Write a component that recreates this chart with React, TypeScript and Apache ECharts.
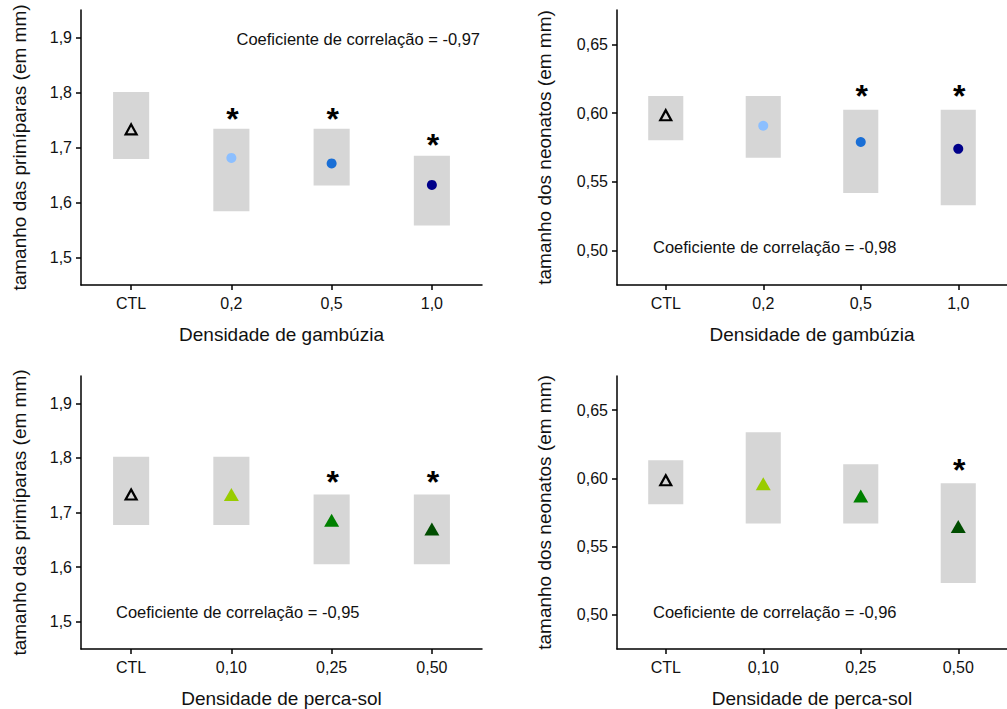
import React, { useEffect, useRef } from "react";
import * as echarts from "echarts";

const catsGamb = ["CTL", "0,2", "0,5", "1,0"];
const catsPerca = ["CTL", "0,10", "0,25", "0,50"];

const primGambMean = [1.733, 1.681, 1.671, 1.632];
const primGambLow = [1.679, 1.584, 1.631, 1.558];
const primGambHigh = [1.801, 1.734, 1.734, 1.685];
const primGambStar = [null, 1.759, 1.759, 1.712];

const neoGambMean = [0.5985, 0.5908, 0.579, 0.574];
const neoGambLow = [0.5803, 0.5675, 0.542, 0.533];
const neoGambHigh = [0.6124, 0.6124, 0.6024, 0.6024];
const neoGambStar = [null, null, 0.6155, 0.6155];

const primPercaMean = [1.733, 1.733, 1.686, 1.67];
const primPercaLow = [1.677, 1.677, 1.605, 1.605];
const primPercaHigh = [1.802, 1.802, 1.733, 1.733];
const primPercaStar = [null, null, 1.764, 1.764];

const neoPercaMean = [0.5986, 0.596, 0.587, 0.5647];
const neoPercaLow = [0.5811, 0.567, 0.567, 0.5234];
const neoPercaHigh = [0.6133, 0.6337, 0.6104, 0.5964];
const neoPercaStar = [null, null, null, 0.6087];

const primTicks = [1.5, 1.6, 1.7, 1.8, 1.9];
const neoTicks = [0.5, 0.55, 0.6, 0.65];

const gambColors = ["#000000", "#8cbfff", "#1a6fd6", "#00008a"];
const percaColors = ["#000000", "#99cc00", "#008000", "#004d00"];

const correlations = ["-0,97", "-0,98", "-0,95", "-0,96"];

const FONT = "Liberation Sans, Arial, sans-serif";

export default function App() {
  const ref = useRef<HTMLDivElement>(null);
  useEffect(() => {
    document.body.style.margin = "0";
    const chart = echarts.init(ref.current!, undefined, { renderer: "svg" });

    const grids = [
      { left: 81, top: 10, width: 401, height: 275 },
      { left: 617, top: 10, width: 401, height: 275 },
      { left: 81, top: 376, width: 401, height: 273 },
      { left: 617, top: 376, width: 401, height: 273 },
    ];
    const panels = [
      { cats: catsGamb, mean: primGambMean, low: primGambLow, high: primGambHigh, star: primGambStar, colors: gambColors, filled: "circle", ticks: primTicks, min: 1.45, max: 1.95, dec: 1, yName: "tamanho das primíparas (em mm)", xName: "Densidade de gambúzia", yGap: 52 },
      { cats: catsGamb, mean: neoGambMean, low: neoGambLow, high: neoGambHigh, star: neoGambStar, colors: gambColors, filled: "circle", ticks: neoTicks, min: 0.475, max: 0.675, dec: 2, yName: "tamanho dos neonatos (em mm)", xName: "Densidade de gambúzia", yGap: 63 },
      { cats: catsPerca, mean: primPercaMean, low: primPercaLow, high: primPercaHigh, star: primPercaStar, colors: percaColors, filled: "triangle", ticks: primTicks, min: 1.45, max: 1.95, dec: 1, yName: "tamanho das primíparas (em mm)", xName: "Densidade de perca-sol", yGap: 52 },
      { cats: catsPerca, mean: neoPercaMean, low: neoPercaLow, high: neoPercaHigh, star: neoPercaStar, colors: percaColors, filled: "triangle", ticks: neoTicks, min: 0.475, max: 0.675, dec: 2, yName: "tamanho dos neonatos (em mm)", xName: "Densidade de perca-sol", yGap: 63 },
    ];

    const axisLine = { show: true, lineStyle: { color: "#000", width: 1.5 } };
    const axisTick = { show: true, length: 5, lineStyle: { color: "#000", width: 1.5 } };

    const xAxis = panels.map((p, i) => ({
      type: "category",
      gridIndex: i,
      data: p.cats,
      boundaryGap: true,
      axisLine,
      axisTick: { ...axisTick, alignWithLabel: true },
      axisLabel: { fontFamily: FONT, fontSize: 16, color: "#111", margin: 10 },
      name: p.xName,
      nameLocation: "middle",
      nameGap: 40,
      nameTextStyle: { fontFamily: FONT, fontSize: 19, color: "#111" },
      splitLine: { show: false },
    }));

    const yAxis = panels.map((p, i) => ({
      type: "value",
      gridIndex: i,
      min: p.min,
      max: p.max,
      axisLine,
      axisTick: { ...axisTick, customValues: p.ticks },
      axisLabel: {
        fontFamily: FONT,
        fontSize: 16,
        color: "#111",
        margin: 9,
        customValues: p.ticks,
        formatter: (v: number) => v.toFixed(p.dec).replace(".", ","),
      },
      splitLine: { show: false },
      name: p.yName,
      nameLocation: "middle",
      nameGap: p.yGap,
      nameTextStyle: { fontFamily: FONT, fontSize: 19, color: "#111" },
    }));

    const series: any[] = [];
    panels.forEach((p, i) => {
      series.push({
        type: "custom",
        xAxisIndex: i,
        yAxisIndex: i,
        data: p.cats.map((_, k) => [k, p.low[k], p.high[k]]),
        encode: { x: 0, y: [1, 2] },
        renderItem: (params: any, api: any) => {
          const x = api.value(0);
          const lo = api.coord([x, api.value(1)]);
          const hi = api.coord([x, api.value(2)]);
          const w = api.size([1, 0])[0] * 0.36;
          return {
            type: "rect",
            shape: { x: lo[0] - w / 2, y: hi[1], width: w, height: lo[1] - hi[1] },
            style: { fill: "#d6d6d6" },
          };
        },
        z: 1,
      });
      series.push({
        type: "scatter",
        xAxisIndex: i,
        yAxisIndex: i,
        z: 3,
        data: p.mean.map((m, k) =>
          k === 0
            ? {
                value: [k, m],
                symbol: "triangle",
                symbolSize: [11, 10],
                itemStyle: { color: "rgba(0,0,0,0)", borderColor: "#000", borderWidth: 2.2, opacity: 1 },
              }
            : {
                value: [k, m],
                symbol: p.filled,
                symbolSize: p.filled === "circle" ? 10 : [15, 13],
                itemStyle: { color: p.colors[k], borderWidth: 0, opacity: 1 },
              }
        ),
      });
      series.push({
        type: "custom",
        xAxisIndex: i,
        yAxisIndex: i,
        z: 4,
        data: p.star
          .map((s, k) => (s === null ? null : [k, s]))
          .filter((d) => d !== null),
        encode: { x: 0, y: 1 },
        renderItem: (params: any, api: any) => {
          const c = api.coord([api.value(0), api.value(1)]);
          return {
            type: "text",
            x: c[0] + 1,
            y: c[1] + 4,
            style: {
              text: "*",
              fontSize: 32,
              fontWeight: "bold",
              fontFamily: FONT,
              fill: "#000",
              align: "center",
              verticalAlign: "middle",
            },
          };
        },
      });
    });

    const annStyle = { fontFamily: FONT, fontSize: 16.5, fill: "#111" };
    const graphic = [
      { type: "text", x: 480, y: 39, style: { ...annStyle, text: "Coeficiente de correlação = " + correlations[0], align: "right", verticalAlign: "middle" } },
      { type: "text", x: 653, y: 247, style: { ...annStyle, text: "Coeficiente de correlação = " + correlations[1], align: "left", verticalAlign: "middle" } },
      { type: "text", x: 116, y: 612, style: { ...annStyle, text: "Coeficiente de correlação = " + correlations[2], align: "left", verticalAlign: "middle" } },
      { type: "text", x: 653, y: 612, style: { ...annStyle, text: "Coeficiente de correlação = " + correlations[3], align: "left", verticalAlign: "middle" } },
    ];

    chart.setOption({
      animation: false,
      backgroundColor: "#fff",
      grid: grids,
      xAxis,
      yAxis,
      series,
      graphic,
    });
    return () => chart.dispose();
  }, []);
  return <div ref={ref} style={{ width: 1007, height: 709 }} />;
}
